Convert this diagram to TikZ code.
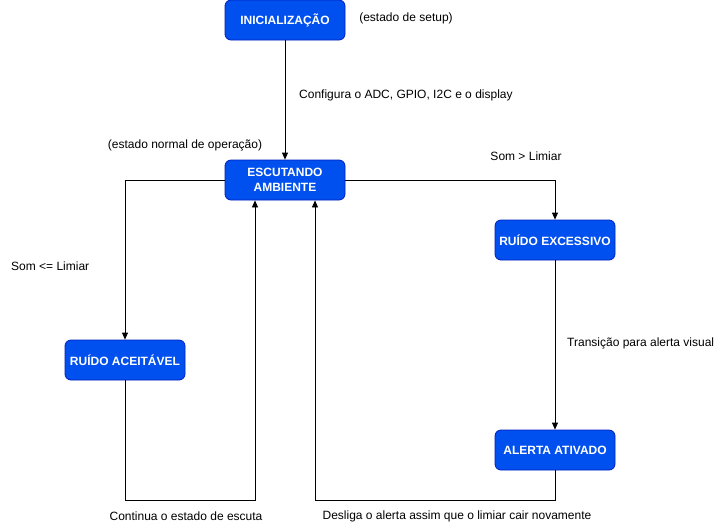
\documentclass[tikz,border=0pt]{standalone}
\usepackage{fontspec}
\setmainfont{Liberation Sans}
\usetikzlibrary{arrows.meta}
\definecolor{boxfill}{HTML}{0050EF}
\definecolor{boxline}{HTML}{001DBC}
\tikzset{
  state/.style={draw=boxline, fill=boxfill, rounded corners=6pt, line width=0.8pt,
    minimum width=120pt, minimum height=40pt, inner sep=0pt, align=center,
    text=white, font=\bfseries\fontsize{12}{15}\selectfont},
  lbl/.style={inner sep=0pt, font=\fontsize{12}{14}\selectfont, text=black},
  arr/.style={draw=black, line width=0.8pt, -{Triangle[length=7pt,width=6pt]}},
}
\begin{document}
\begin{tikzpicture}[x=1pt,y=-1pt]
\useasboundingbox (0,0) rectangle (725,531);
\node[state] (init) at (285,20) {INICIALIZAÇÃO};
\node[state] (esc) at (285,180) {ESCUTANDO\\AMBIENTE};
\node[state] (exc) at (555,240) {RUÍDO EXCESSIVO};
\node[state] (acc) at (125,360) {RUÍDO ACEITÁVEL};
\node[state] (alert) at (555,450) {ALERTA ATIVADO};

\node[lbl] (lsetup) at (406,18) {(estado de setup)};
\node[lbl, anchor=west] (lconf) at (299,95) {Configura o ADC, GPIO, I2C e o display};
\node[lbl] (lnormal) at (185,145) {(estado normal de operação)};
\node[lbl] (lmaior) at (526,156) {Som > Limiar};
\node[lbl, anchor=west] (lmenor) at (11,266) {Som <= Limiar};
\node[lbl, anchor=west] (ltrans) at (567,343) {Transição para alerta visual};
\node[lbl] (lcont) at (186,516) {Continua o estado de escuta};
\node[lbl] (ldesl) at (457,516) {Desliga o alerta assim que o limiar cair novamente};

\coordinate (b1) at (125,500);
\coordinate (b2) at (555,500);
\draw[arr] (init) -- (esc);
\draw[arr] (esc.west) -| (acc.north);
\draw[arr] (esc.east) -| (exc.north);
\draw[arr] (exc) -- (alert);
\draw[arr] (acc.south) -- (b1) -| ([xshift=-30pt]esc.south);
\draw[arr] (alert.south) -- (b2) -| ([xshift=30pt]esc.south);
\end{tikzpicture}
\end{document}
